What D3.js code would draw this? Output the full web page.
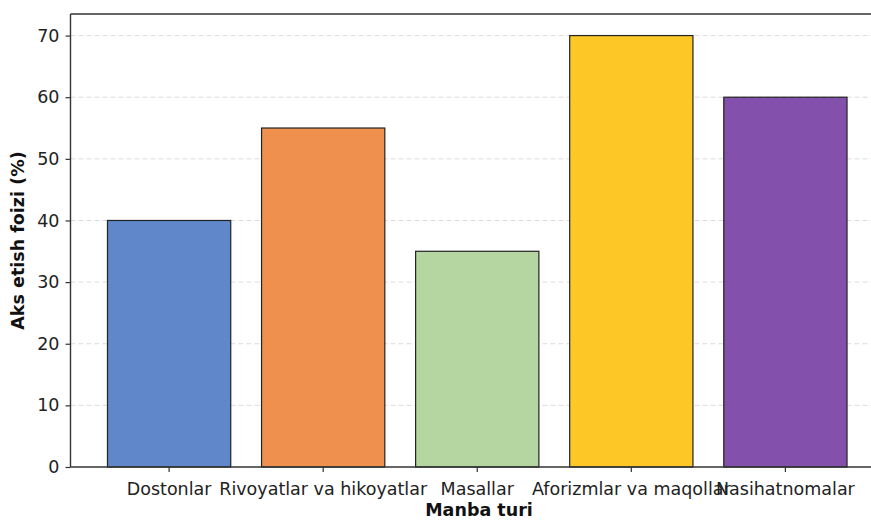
<!DOCTYPE html>
<html>
<head>
<meta charset="utf-8">
<script src="https://cdn.jsdelivr.net/npm/d3@7"></script>
<style>
  body { margin: 0; background: #fff; }
  svg { font-family: "DejaVu Sans", sans-serif; }
</style>
</head>
<body>
<script>
const w = 871;
const h = 520;

const categories = ["Dostonlar", "Rivoyatlar va hikoyatlar", "Masallar", "Aforizmlar va maqollar", "Nasihatnomalar"];
const values = [40, 55, 35, 70, 60];
const colors = ["#5f87ca", "#f0904f", "#b5d6a0", "#fdc826", "#8350ab"];
const yTicks = [0, 10, 20, 30, 40, 50, 60, 70];

const margin = {left: 70.5, top: 14, right: 884, bottom: 467};
const fontSize = "17.5px";

const svg = d3.select("body")
              .append("svg")
              .attr("width", w)
              .attr("height", h);

const x = d3.scaleBand()
            .domain(categories)
            .range([margin.left, margin.right])
            .paddingInner(0.2)
            .paddingOuter(0.24);

const y = d3.scaleLinear()
            .domain([0, 73.5])
            .range([margin.bottom, margin.top]);

// grid
svg.append("g")
   .selectAll("line")
   .data(yTicks.slice(1))
   .enter()
   .append("line")
   .attr("x1", margin.left)
   .attr("x2", margin.right)
   .attr("y1", d => y(d))
   .attr("y2", d => y(d))
   .attr("stroke", "#b0b0b0")
   .attr("stroke-opacity", 0.45)
   .attr("stroke-dasharray", "5,3");

// bars
svg.append("g")
   .selectAll("rect")
   .data(values)
   .enter()
   .append("rect")
   .attr("x", (d, i) => x(categories[i]))
   .attr("y", d => y(d))
   .attr("width", x.bandwidth())
   .attr("height", d => y(0) - y(d))
   .attr("fill", (d, i) => colors[i])
   .attr("stroke", "#222")
   .attr("stroke-width", 1.2);

// axes
const yAxis = svg.append("g")
   .attr("transform", "translate(" + margin.left + ",0)")
   .call(d3.axisLeft(y).tickValues(yTicks).tickSize(5).tickPadding(6));

const xAxis = svg.append("g")
   .attr("transform", "translate(0," + margin.bottom + ")")
   .call(d3.axisBottom(x).tickSize(5).tickPadding(6));

[xAxis, yAxis].forEach(a => {
  a.selectAll("text").attr("font-size", fontSize).attr("fill", "#222").attr("font-family", "DejaVu Sans");
  a.selectAll("line").attr("stroke", "#333").attr("stroke-width", 1.2);
  a.select(".domain").remove();
});
xAxis.selectAll("text").attr("y", 28).attr("dy", null);

// spines
svg.append("line")
   .attr("x1", margin.left).attr("x2", margin.left)
   .attr("y1", margin.top).attr("y2", margin.bottom)
   .attr("stroke", "#333").attr("stroke-width", 1.4);
svg.append("line")
   .attr("x1", margin.left).attr("x2", margin.right)
   .attr("y1", margin.bottom).attr("y2", margin.bottom)
   .attr("stroke", "#333").attr("stroke-width", 1.4);
svg.append("line")
   .attr("x1", margin.left).attr("x2", margin.right)
   .attr("y1", margin.top).attr("y2", margin.top)
   .attr("stroke", "#333").attr("stroke-width", 1.4);

// labels
svg.append("text")
   .attr("x", 479)
   .attr("y", 516)
   .attr("text-anchor", "middle")
   .attr("font-size", fontSize)
   .attr("font-weight", "bold")
   .attr("fill", "#111")
   .text("Manba turi");

svg.append("text")
   .attr("transform", "translate(24," + ((margin.top + margin.bottom) / 2) + ") rotate(-90)")
   .attr("text-anchor", "middle")
   .attr("font-size", fontSize)
   .attr("font-weight", "bold")
   .attr("fill", "#111")
   .text("Aks etish foizi (%)");
</script>
</body>
</html>
